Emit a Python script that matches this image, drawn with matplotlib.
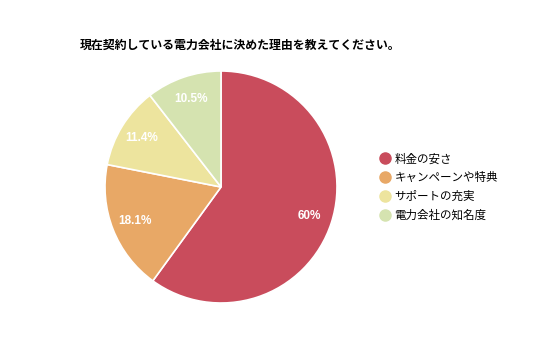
import matplotlib.pyplot as plt
from matplotlib.lines import Line2D
import numpy as np

plt.rcParams['font.family'] = ['Noto Sans CJK JP', 'DejaVu Sans']

# データ
labels = ['料金の安さ', 'キャンペーンや特典', 'サポートの充実', '電力会社の知名度']
values = [60, 18.1, 11.4, 10.5]
pct_text = ['60%', '18.1%', '11.4%', '10.5%']
colors = ['#c94c5c', '#e8a866', '#ede49e', '#d5e3b0']
title = '現在契約している電力会社に決めた理由を教えてください。'

fig = plt.figure(figsize=(5.36, 3.57), dpi=100)
fig.patch.set_facecolor('white')

ax = fig.add_axes([221/536 - 116/536, 1 - (187 + 116)/357, 232/536, 232/357])
wedges, _ = ax.pie(values, colors=colors, startangle=90, counterclock=False,
                   wedgeprops=dict(edgecolor='white', linewidth=1.2))
ax.set_xlim(-1, 1)
ax.set_ylim(-1, 1)
ax.set_aspect('equal')

# パーセント表示
total = sum(values)
ang = 90.0
for v, t in zip(values, pct_text):
    mid = ang - v / total * 360 / 2
    ang -= v / total * 360
    r = 0.8
    ax.text(r * np.cos(np.radians(mid)), r * np.sin(np.radians(mid)), t,
            ha='center', va='center', color='white', fontsize=8.5,
            fontweight='bold', family=['Liberation Sans', 'DejaVu Sans'])

fig.text(80/536, 1 - 45/357, title, fontsize=8.6, fontweight='bold',
         ha='left', va='center')

handles = [Line2D([], [], marker='o', linestyle='', markersize=8,
                  markerfacecolor=c, markeredgecolor=c) for c in colors]
fig.legend(handles, labels, loc='center left', bbox_to_anchor=(368/536, 1 - 187/357),
           frameon=False, fontsize=8.3, handletextpad=0.2, labelspacing=0.5,
           handlelength=1.2)

fig.savefig('out.png', dpi=100)
